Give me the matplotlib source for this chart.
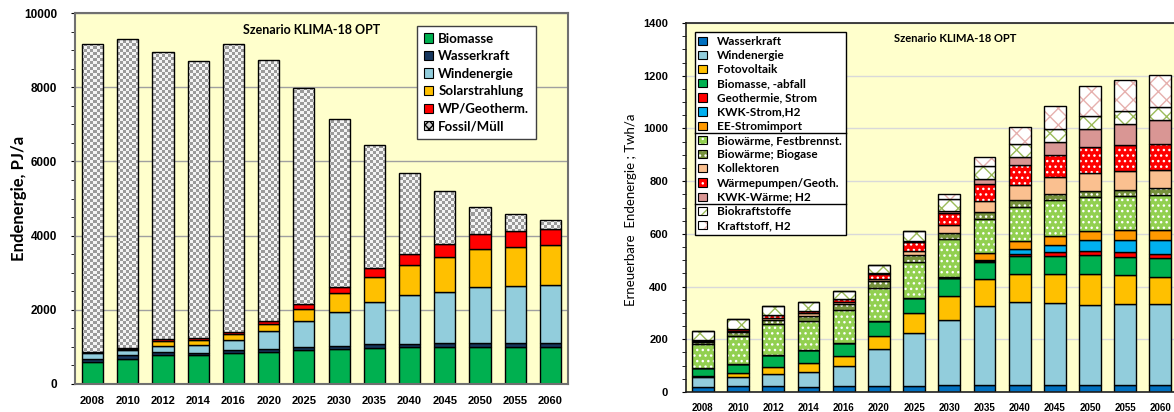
import numpy as np
import matplotlib
matplotlib.use('Agg')
import matplotlib.pyplot as plt
from matplotlib.patches import Patch
from matplotlib.lines import Line2D
from matplotlib.legend_handler import HandlerTuple

####################################################
# Data
####################################################
years = ['2008', '2010', '2012', '2014', '2016', '2020', '2025',
         '2030', '2035', '2040', '2045', '2050', '2055', '2060']

# left panel, Endenergie PJ/a
l_biomasse = [600, 680, 770, 770, 830, 850, 910, 935, 960, 990, 990, 1005, 1005, 1005]
l_wasser   = [75, 90, 80, 75, 80, 90, 80, 90, 110, 100, 110, 90, 90, 90]
l_wind     = [160, 135, 180, 200, 270, 495, 700, 925, 1135, 1305, 1385, 1510, 1550, 1565]
l_solar    = [20, 40, 135, 150, 170, 190, 330, 495, 685, 810, 935, 1045, 1060, 1090]
l_wp       = [15, 30, 35, 45, 55, 80, 125, 180, 240, 295, 350, 385, 425, 430]
l_fossil   = [8295, 8325, 7740, 7465, 7760, 7025, 5830, 4530, 3310, 2190, 1445, 730, 445, 235]

# right panel, erneuerbare Endenergie TWh/a
r_wasser   = [20, 21, 21, 20, 21, 22, 23, 25, 25, 25, 25, 25, 25, 25]
r_wind     = [38, 36, 48, 56, 76, 140, 199, 248, 300, 316, 311, 306, 308, 307]
r_foto     = [4, 14, 27, 35, 39, 50, 76, 92, 102, 106, 110, 117, 110, 106]
r_biomasse = [30, 34, 45, 48, 51, 56, 58, 66, 68, 69, 69, 71, 70, 70]
r_geo_str  = [0, 0, 0, 0, 0, 0, 2, 3, 3, 9, 15, 16, 17, 17]
r_kwk_str  = [0, 0, 0, 0, 0, 0, 0, 0, 3, 17, 29, 41, 48, 53]
r_ee_imp   = [0, 0, 0, 0, 0, 0, 0, 4, 25, 31, 33, 34, 36, 38]
r_bw_fest  = [90, 108, 118, 111, 126, 127, 135, 141, 132, 130, 136, 131, 131, 133]
r_bw_gas   = [8, 14, 16, 20, 20, 26, 25, 23, 25, 25, 22, 23, 23, 25]
r_koll     = [5, 5, 7, 8, 7, 8, 16, 30, 43, 57, 67, 68, 71, 67]
r_wp       = [4, 7, 10, 10, 14, 20, 35, 46, 65, 77, 82, 96, 100, 101]
r_kwk_w    = [0, 0, 0, 0, 0, 2, 4, 10, 18, 30, 50, 70, 78, 91]
r_biokraft = [34, 38, 35, 34, 30, 30, 37, 43, 48, 50, 48, 49, 49, 50]
r_kraft_h2 = [0, 0, 0, 0, 0, 0, 0, 20, 35, 65, 89, 114, 119, 119]

####################################################
# Style
####################################################
plt.rcParams['font.family'] = ['Lato', 'DejaVu Sans']
plt.rcParams['hatch.linewidth'] = 1.0
bg = '#ffffcc'
tick_font = {'family': 'Liberation Sans', 'weight': 'bold'}

fig = plt.figure(figsize=(11.74, 4.12), dpi=100)
ax1 = fig.add_axes([75/1174, 28/412, 493/1174, 371/412])
ax2 = fig.add_axes([686/1174, 20/412, 492/1174, 369/412])

x = np.arange(len(years))

####################################################
# Left panel
####################################################
ax1.set_facecolor(bg)
ax1.set_axisbelow(True)
ax1.grid(axis='y', color='#a0a0a0', linewidth=1.0)

w1 = 0.6
left_series = [
    (l_biomasse, '#00b050', 'Biomasse'),
    (l_wasser,   '#17375e', 'Wasserkraft'),
    (l_wind,     '#92cddc', 'Windenergie'),
    (l_solar,    '#ffc000', 'Solarstrahlung'),
    (l_wp,       '#ff0000', 'WP/Geotherm.'),
]
bottom = np.zeros(len(years))
handles1 = []
for vals, col, lab in left_series:
    ax1.bar(x, vals, w1, bottom=bottom, color=col, edgecolor='black', linewidth=1.0)
    handles1.append(Patch(facecolor=col, edgecolor='black', linewidth=0.8, label=lab))
    bottom += np.array(vals)

# fossil bars with checker texture
fossil_bars = ax1.bar(x, l_fossil, w1, bottom=bottom, color='none', edgecolor='black', linewidth=1.0, zorder=3)
ny, nx = 124, 164
checker = (np.add.outer(np.arange(ny), np.arange(nx)) % 2).astype(float)
for b in fossil_bars:
    im = ax1.imshow(checker, cmap=matplotlib.colors.ListedColormap(['#f4f4f4', '#9a9a9a']),
                    extent=(-0.5, 13.5, 0, 10000), aspect='auto', interpolation='nearest', zorder=2)
    im.set_clip_path(b)
ax1.set_xlim(-0.5, 13.5)
ax1.set_ylim(0, 10000)
handles1.append(Patch(facecolor='#d0d0d0', edgecolor='black', hatch='xxxx', linewidth=0.8, label='Fossil/Müll'))

ax1.set_xticks(x)
ax1.set_xticklabels(years, fontdict=tick_font, fontsize=8)
ax1.set_yticks(np.arange(0, 10001, 2000))
ax1.set_yticklabels([str(v) for v in range(0, 10001, 2000)], fontdict=tick_font, fontsize=8.5)
ax1.set_yticks(np.arange(0, 10001, 500), minor=True)
ax1.tick_params(axis='x', direction='in', length=3, color='#909090', pad=9)
ax1.tick_params(axis='y', which='both', direction='out', length=3, pad=10)
for s in ax1.spines.values():
    s.set_color('#707070')
    s.set_linewidth(1.5)
ax1.set_ylabel('Endenergie, PJ/a', fontsize=12, fontweight='bold')
ax1.yaxis.set_label_coords(-0.097, 0.5)
ax1.text(0.479, 0.954, 'Szenario KLIMA-18 OPT', transform=ax1.transAxes,
         ha='center', va='center', fontsize=9, fontweight='bold')
leg1 = ax1.legend(handles=handles1, loc='upper left', bbox_to_anchor=(0.694, 0.965),
                  prop={'weight': 'bold', 'size': 9.5}, handlelength=0.7, handleheight=0.7,
                  handletextpad=0.4, labelspacing=0.42, borderpad=0.5, fancybox=False,
                  framealpha=1, edgecolor='#404040', borderaxespad=0)
leg1.get_frame().set_linewidth(1.0)

####################################################
# Right panel
####################################################
ax2.set_facecolor(bg)
ax2.set_axisbelow(True)
ax2.set_xlim(-0.48, 13.5)
ax2.set_ylim(0, 1400)
ax2.grid(axis='y', color='#d9d9d9', linewidth=1.0)

w2 = 0.62
# (values, face colour, hatch, hatch colour, label)
right_series = [
    (r_wasser,   '#0070c0', None, None, 'Wasserkraft'),
    (r_wind,     '#92cddc', None, None, 'Windenergie'),
    (r_foto,     '#ffc000', None, None, 'Fotovoltaik'),
    (r_biomasse, '#00b050', None, None, 'Biomasse, -abfall'),
    (r_geo_str,  '#ff0000', None, None, 'Geothermie, Strom'),
    (r_kwk_str,  '#00b0f0', None, None, 'KWK-Strom,H2'),
    (r_ee_imp,   '#ff9900', None, None, 'EE-Stromimport'),
    (r_bw_fest,  '#92d050', '...', 'white', 'Biowärme, Festbrennst.'),
    (r_bw_gas,   '#76923c', '...', 'white', 'Biowärme; Biogase'),
    (r_koll,     '#fac090', None, None, 'Kollektoren'),
    (r_wp,       '#ff0000', '...', 'white', 'Wärmepumpen/Geoth.'),
    (r_kwk_w,    '#d99694', None, None, 'KWK-Wärme; H2'),
    (r_biokraft, 'white', 'xx', '#9bbb59', 'Biokraftstoffe'),
    (r_kraft_h2, 'white', 'xx', '#e6b0ae', 'Kraftstoff, H2'),
]
bottom = np.zeros(len(years))
handles2 = []
labels2 = []
for vals, col, hatch, hcol, lab in right_series:
    if hatch is None:
        ax2.bar(x, vals, w2, bottom=bottom, color=col, edgecolor='black', linewidth=1.0)
        handles2.append(Patch(facecolor=col, edgecolor='black', linewidth=0.8))
    else:
        ax2.bar(x, vals, w2, bottom=bottom, color=col, edgecolor=hcol, hatch=hatch, linewidth=0)
        ax2.bar(x, vals, w2, bottom=bottom, color='none', edgecolor='black', linewidth=1.0)
        handles2.append((Patch(facecolor=col, edgecolor=hcol, hatch=hatch, linewidth=0),
                         Patch(facecolor='none', edgecolor='black', linewidth=0.8)))
    labels2.append(lab)
    bottom += np.array(vals)

ax2.set_xticks(x)
ax2.set_xticklabels(years, fontdict=tick_font, fontsize=7)
ax2.set_yticks(np.arange(0, 1401, 200))
ax2.set_yticklabels([str(v) for v in range(0, 1401, 200)], fontdict=tick_font, fontsize=8)
ax2.set_yticks(np.arange(0, 1401, 50), minor=True)
ax2.tick_params(axis='x', direction='in', length=0, pad=8)
ax2.tick_params(axis='y', which='both', direction='out', length=3, pad=10)
for s in ax2.spines.values():
    s.set_color('#202020')
    s.set_linewidth(1.2)
ax2.set_ylabel('Erneuerbare  Endenergie ; Twh/a', fontsize=9.5)
ax2.yaxis.set_label_coords(-0.0996, 0.493)
ax2.text(0.548, 0.957, 'Szenario KLIMA-18 OPT', transform=ax2.transAxes,
         ha='center', va='center', fontsize=8, fontweight='bold')
leg2 = ax2.legend(handles=handles2, labels=labels2, loc='upper left', bbox_to_anchor=(0.018, 0.975),
                  prop={'weight': 'bold', 'size': 8.5}, handlelength=0.7, handleheight=0.7,
                  handletextpad=0.9, labelspacing=0.27, borderpad=0.3, fancybox=False,
                  framealpha=1, edgecolor='black', borderaxespad=0,
                  handler_map={tuple: HandlerTuple(ndivide=1)})
leg2.get_frame().set_linewidth(1.0)

# separator lines inside the right legend
fig.canvas.draw()
renderer = fig.canvas.get_renderer()
frame = leg2.get_frame().get_window_extent(renderer)
texts = leg2.get_texts()
inv = fig.transFigure.inverted()
for i in (6, 11):
    a = texts[i].get_window_extent(renderer)
    b = texts[i + 1].get_window_extent(renderer)
    ymid = (a.y0 + b.y1) / 2
    p0 = inv.transform((frame.x0, ymid))
    p1 = inv.transform((frame.x1, ymid))
    fig.add_artist(Line2D([p0[0], p1[0]], [p0[1], p1[1]], color='black', linewidth=1.0,
                          transform=fig.transFigure, zorder=10))

fig.savefig('out.png', dpi=100)
